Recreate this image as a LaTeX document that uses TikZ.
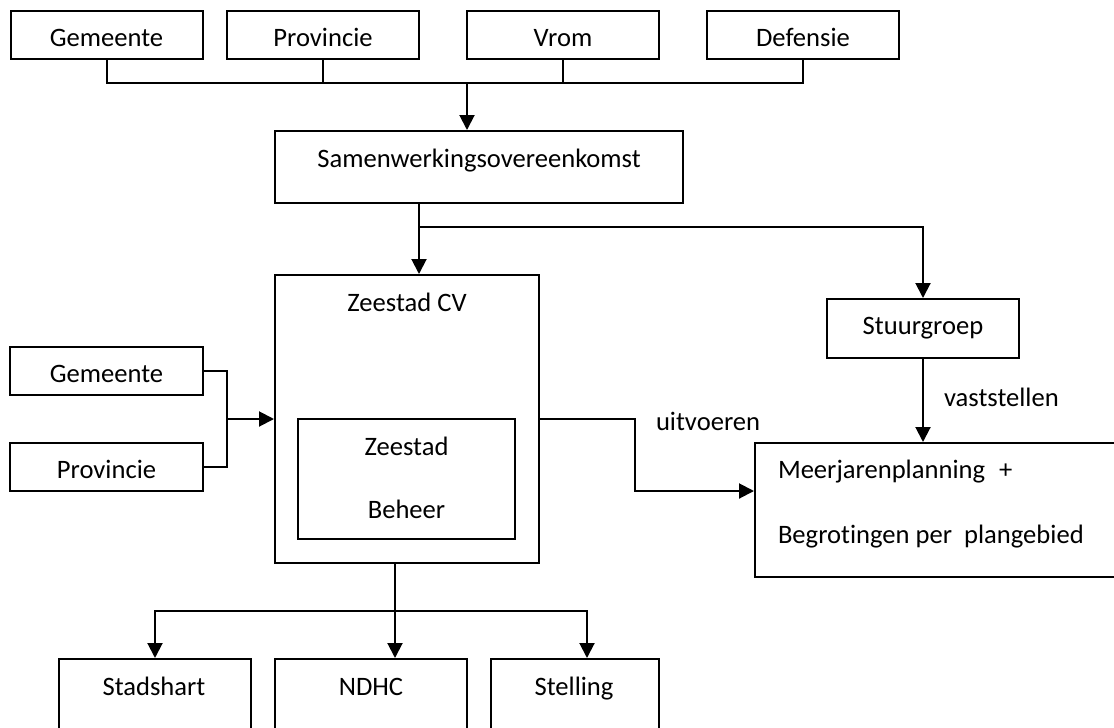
\documentclass[tikz,border=0pt]{standalone}
\usepackage{fontspec}
\setmainfont{Carlito}[Ligatures=NoCommon]
\usepackage{tikz}
\usetikzlibrary{arrows.meta}

\begin{document}
\begin{tikzpicture}[x=0.5pt, y=-0.5pt, line width=1pt,
    >={Triangle[length=7.5pt, width=7.5pt]},
    every node/.style={font=\fontsize{13.3}{16}\selectfont},
    box/.style={draw, rectangle, inner sep=0pt, minimum width=96pt},
    party/.style={box, minimum height=24pt, text height=11.5pt, text depth=0pt},
    lbl/.style={anchor=base, inner sep=0pt}]
  \clip (0,0) rectangle (1114,728);
  % partners
  \node[party] at (106.5,35) (gemTop) {Gemeente};
  \node[party] at (323,35) (provTop) {Provincie};
  \node[party] at (563,35) (vrom) {Vrom};
  \node[party] at (803,35) (defensie) {Defensie};
  \node[box, minimum width=204pt, minimum height=36pt, text height=9pt, text depth=9pt] at (479,167) (samen) {Samenwerkingsovereenkomst};
  % Zeestad
  \node[box, minimum width=132pt, minimum height=144pt] at (407,419) (cv) {};
  \node[lbl] at (407,311) (cvTxt) {Zeestad CV};
  \node[box, minimum width=108.5pt, minimum height=60pt] at (406.5,479) (beheer) {};
  \node[lbl] at (406.5,455) (beheerA) {Zeestad};
  \node[lbl] at (406.5,518) (beheerB) {Beheer};
  \node[party, minimum width=96.5pt] at (106.5,371) (gemLeft) {Gemeente};
  \node[party, minimum width=96.5pt] at (106.5,467) (provLeft) {Provincie};
  % sturing
  \node[box, minimum height=29.5pt] at (923,328.5) (stuur) {Stuurgroep};
  \node[box, minimum width=182.5pt, minimum height=67pt] at (937.5,510) (meer) {};
  \node[lbl, anchor=base west] at (777,478) (meerA) {Meerjarenplanning\hspace{7pt}+};
  \node[lbl, anchor=base west] at (777,543) (meerB) {Begrotingen per\hspace{6pt}plangebied};
  \node[lbl, anchor=base west] at (655,430) (uitv) {uitvoeren};
  \node[lbl, anchor=base west] at (943,406) (vastst) {vaststellen};
  % plangebieden
  \node[box, minimum height=50.5pt] at (155,709.5) (stad) {};
  \node[lbl] at (154,695) (stadTxt) {Stadshart};
  \node[box, minimum height=50.5pt] at (371,709.5) (ndhc) {};
  \node[lbl] at (371,695) (ndhcTxt) {NDHC};
  \node[box, minimum width=84pt, minimum height=50.5pt] at (575,709.5) (stel) {};
  \node[lbl] at (574,695) (stelTxt) {Stelling};

  \coordinate (bus) at (467,83);
  \draw (gemTop.south) |- (bus);
  \draw (defensie.south) |- (bus);
  \draw (provTop.south) -- (provTop.south |- bus);
  \draw (vrom.south) -- (vrom.south |- bus);
  \draw[->] (bus) -- (bus |- samen.north);

  \coordinate (split) at (419,227);
  \draw[->] (split |- samen.south) -- (split |- cv.north);
  \draw[->] (split) -| (stuur.north);

  \coordinate (join) at (227,419);
  \draw (gemLeft.east) -| (join);
  \draw (provLeft.east) -| (join);
  \draw[->] (join) -- (cv.west);

  \coordinate (bend) at (635,491);
  \draw[->] (cv.east) -| (bend) -- (bend -| meer.west);
  \draw[->] (stuur.south) -- (stuur.south |- meer.north);

  \coordinate (fork) at (395,611);
  \draw[->] (fork |- cv.south) -- (fork |- ndhc.north);
  \draw[->] (fork) -| (stad.north);
  \draw[->] (fork) -| ([xshift=6pt]stel.north);
\end{tikzpicture}
\end{document}
